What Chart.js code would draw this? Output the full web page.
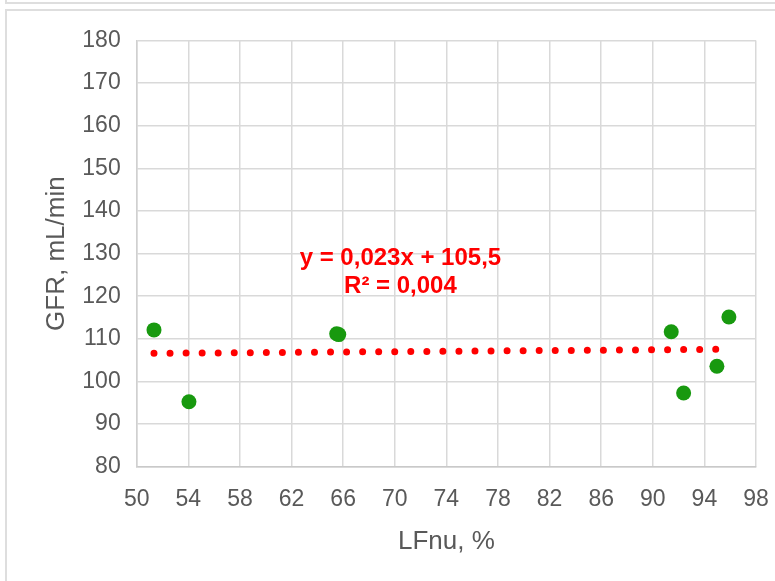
<!DOCTYPE html>
<html>
<head>
<meta charset="utf-8">
<script src="https://cdn.jsdelivr.net/npm/chart.js@4.4.1/dist/chart.umd.min.js"></script>
<style>
  html, body { margin: 0; padding: 0; background: #ffffff; width: 775px; height: 581px; overflow: hidden; }
  .box-upper { position: absolute; left: 5px; top: -10px; width: 800px; height: 14px; border: 2px solid #dedede; box-sizing: border-box; }
  .box-lower { position: absolute; left: 5px; top: 9px; width: 800px; height: 600px; border: 2px solid #dedede; box-sizing: border-box; }
  #c { position: absolute; left: 0; top: 0; }
</style>
</head>
<body>
<div class="box-upper"></div>
<div class="box-lower"></div>
<canvas id="c" width="775" height="581"></canvas>
<script>
// ---- data ----
const lfnu = [51.34, 54.05, 65.5, 65.66, 91.43, 92.39, 94.97, 95.9];
const gfr  = [112.1, 95.25, 111.2, 111.0, 111.67, 97.29, 103.56, 115.12];
const trendX = [51.34, 95.9];
const trendY = [106.6, 107.55];
const xTicks = [50, 54, 58, 62, 66, 70, 74, 78, 82, 86, 90, 94, 98];
const yTicks = [80, 90, 100, 110, 120, 130, 140, 150, 160, 170, 180];
const equationLines = ['y = 0,023x + 105,5', 'R\u00B2 = 0,004'];
const xTitle = 'LFnu, %';
const yTitle = 'GFR, mL/min';

const pointsData = lfnu.map((x, i) => ({ x: x, y: gfr[i] }));
const trendData = trendX.map((x, i) => ({ x: x, y: trendY[i] }));

const equationPlugin = {
  id: 'equation',
  afterDatasetsDraw(chart) {
    const { ctx, scales } = chart;
    const cx = scales.x.getPixelForValue(70.44);
    const y1 = scales.y.getPixelForValue(128.9);
    const y2 = scales.y.getPixelForValue(122.4);
    ctx.save();
    ctx.fillStyle = '#ff0000';
    ctx.font = 'bold 24px "Liberation Sans", Arial, sans-serif';
    ctx.textAlign = 'center';
    ctx.textBaseline = 'middle';
    ctx.fillText(equationLines[0], cx, y1);
    ctx.fillText(equationLines[1], cx, y2);
    ctx.restore();
  }
};

const gridColor = '#d9d9d9';
const textColor = '#595959';
const fontFamily = '"Liberation Sans", Arial, sans-serif';

new Chart(document.getElementById('c'), {
  type: 'scatter',
  data: {
    datasets: [
      {
        label: 'trend',
        type: 'line',
        data: trendData,
        borderColor: '#ff0000',
        borderWidth: 7,
        borderDash: [0, 16.05],
        borderCapStyle: 'round',
        pointRadius: 0,
        fill: false,
        tension: 0,
        order: 2
      },
      {
        label: 'GFR',
        data: pointsData,
        backgroundColor: '#18990f',
        borderWidth: 0,
        pointRadius: 7.5,
        pointHoverRadius: 7.5,
        order: 1
      }
    ]
  },
  options: {
    responsive: false,
    animation: false,
    devicePixelRatio: 1,
    layout: { padding: { top: 40.5, right: 19, left: 0, bottom: 0 } },
    plugins: {
      legend: { display: false },
      tooltip: { enabled: false }
    },
    scales: {
      x: {
        type: 'linear',
        min: xTicks[0],
        max: xTicks[xTicks.length - 1],
        afterBuildTicks: s => { s.ticks = xTicks.map(v => ({ value: v })); },
        afterFit: s => { s.height = 114.3; s.paddingLeft = 0; s.paddingRight = 0; },
        grid: { color: gridColor, lineWidth: 1.5, drawTicks: false },
        border: { color: '#c9c9c9', width: 1.5 },
        ticks: { color: textColor, font: { family: fontFamily, size: 23 }, padding: 19, maxRotation: 0, autoSkip: false },
        title: { display: true, text: xTitle, color: textColor, font: { family: fontFamily, size: 26 }, padding: { top: 0, bottom: 23.5 } }
      },
      y: {
        type: 'linear',
        min: yTicks[0],
        max: yTicks[yTicks.length - 1],
        afterBuildTicks: s => { s.ticks = yTicks.map(v => ({ value: v })); },
        afterFit: s => { s.width = 136.7; s.paddingTop = 0; s.paddingBottom = 0; },
        grid: { color: gridColor, lineWidth: 1.5, drawTicks: false },
        border: { color: '#d0d0d0', width: 1.5 },
        ticks: { color: textColor, font: { family: fontFamily, size: 23 }, padding: 16, autoSkip: false },
        title: { display: true, text: yTitle, color: textColor, font: { family: fontFamily, size: 26 }, padding: { top: 41.4, bottom: 0 } }
      }
    }
  },
  plugins: [equationPlugin]
});
</script>
</body>
</html>
